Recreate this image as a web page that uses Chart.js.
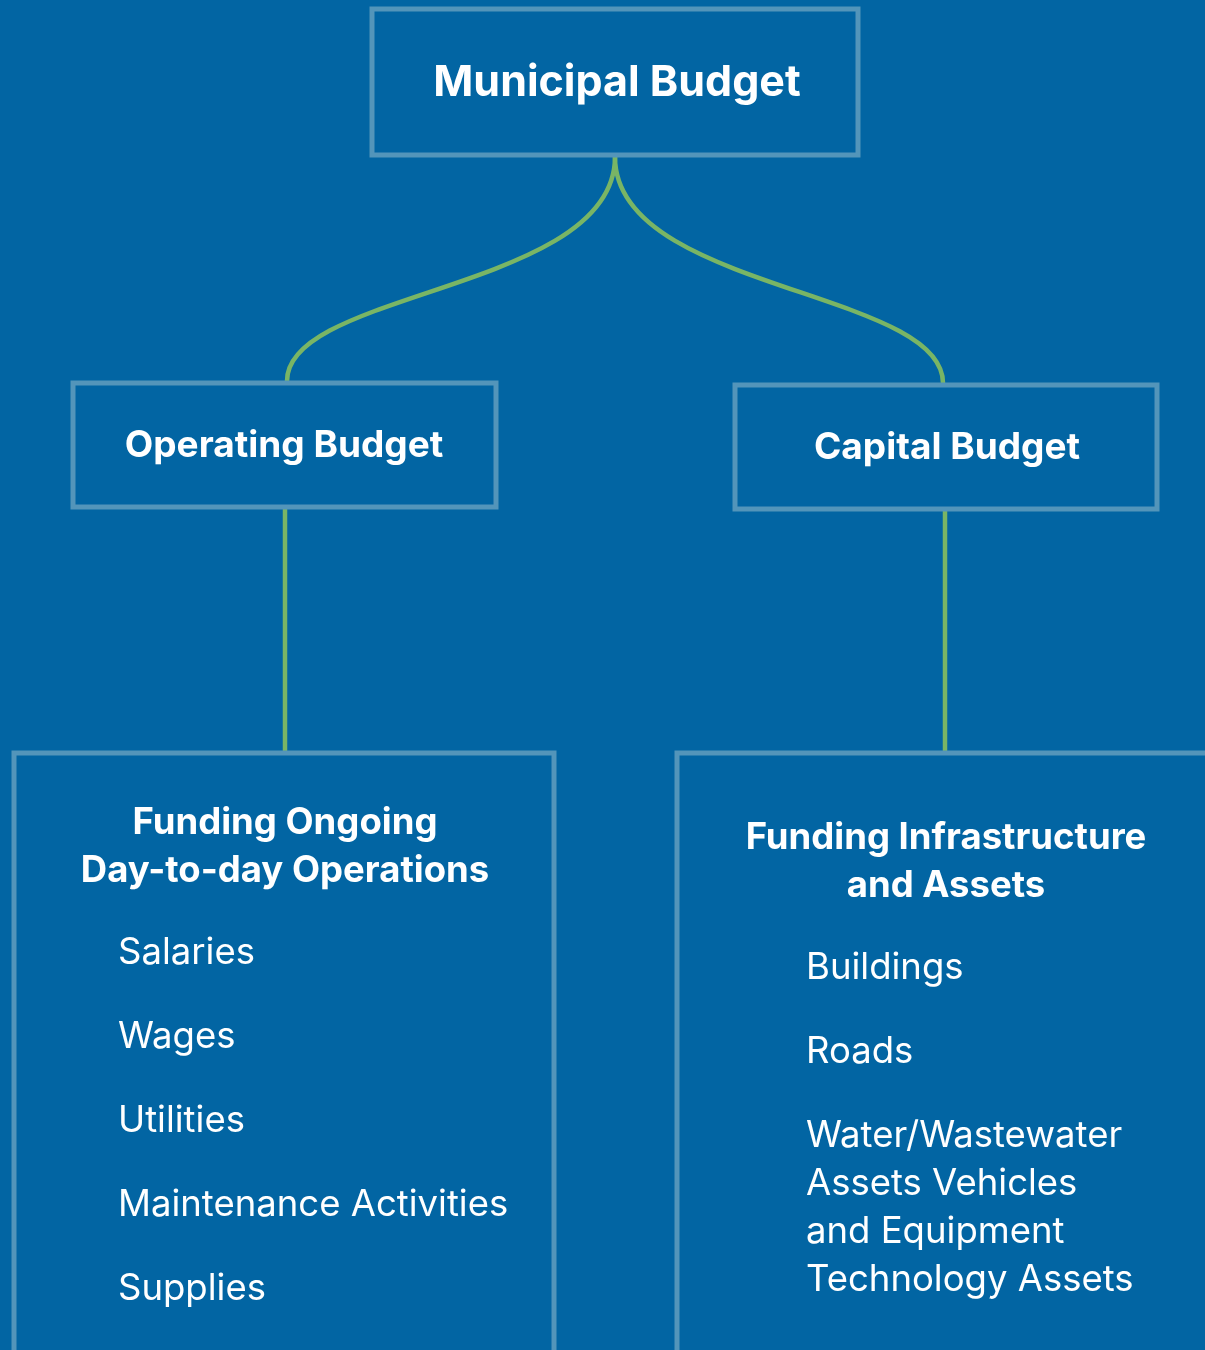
<!DOCTYPE html>
<html>
<head>
<meta charset="utf-8">
<script src="https://cdn.jsdelivr.net/npm/chart.js@4.4.1/dist/chart.umd.min.js"></script>
<style>
  html, body { margin: 0; padding: 0; background: #0265a3; }
  #wrap { width: 1205px; height: 1350px; }
</style>
</head>
<body>
<div id="wrap"><canvas id="chart" width="1205" height="1350"></canvas></div>
<script>
// diagram content
const rootLabel = ['Municipal Budget'];
const branchLabels = ['Operating Budget', 'Capital Budget'];
const detailTitles = [
    ['Funding Ongoing', 'Day-to-day Operations'],
    ['Funding Infrastructure', 'and Assets']
];
const operatingItems = [['Salaries'], ['Wages'], ['Utilities'], ['Maintenance Activities'], ['Supplies']];
const capitalItems = [['Buildings'], ['Roads'], ['Water/Wastewater', 'Assets Vehicles', 'and Equipment', 'Technology Assets']];

// layout (in scale units, 1 unit = 1 px)
const layout = {
    root: { x0: 372, y0: 9, x1: 858, y1: 155, cx: 617, cy: 83 },
    branches: [
        { x0: 73, y0: 383, x1: 496, y1: 507, cx: 284, cy: 446, anchor: 287 },
        { x0: 735, y0: 385, x1: 1157, y1: 509, cx: 947, cy: 448, anchor: 943 }
    ],
    details: [
        { x0: 14, y0: 753, x1: 554, y1: 1400, cx: 285, cy: 823, itemX: 118, itemY: 953, step: 84, lead: 48, stem: 285 },
        { x0: 677, y0: 753, x1: 1260, y1: 1400, cx: 946, cy: 838, itemX: 806, itemY: 968, step: 84, lead: 48, stem: 945 }
    ]
};

const colors = {
    border: '#5395ba',
    link: '#79b565',
    text: '#ffffff'
};

const diagramPlugin = {
    id: 'diagram',
    afterDatasetsDraw(chart) {
        const ctx = chart.ctx;
        const sx = v => chart.scales.x.getPixelForValue(v);
        const sy = v => chart.scales.y.getPixelForValue(v);

        // connectors
        ctx.save();
        ctx.strokeStyle = colors.link;
        ctx.lineWidth = 4.5;
        ctx.lineCap = 'butt';
        const r = layout.root;
        const midY = 290;
        layout.branches.forEach(b => {
            ctx.beginPath();
            ctx.moveTo(sx(r.cx - 2), sy(r.y1 + 2));
            ctx.bezierCurveTo(sx(r.cx - 2), sy(midY), sx(b.anchor), sy(midY), sx(b.anchor), sy(b.y0 - 2));
            ctx.stroke();
        });
        layout.branches.forEach((b, i) => {
            const d = layout.details[i];
            ctx.beginPath();
            ctx.moveTo(sx(d.stem), sy(b.y1 + 2));
            ctx.lineTo(sx(d.stem), sy(d.y0 - 2));
            ctx.stroke();
        });

        // boxes
        ctx.strokeStyle = colors.border;
        ctx.lineWidth = 5;
        const boxes = [r, ...layout.branches, ...layout.details];
        boxes.forEach(b => {
            ctx.strokeRect(sx(b.x0), sy(b.y0), sx(b.x1) - sx(b.x0), sy(b.y1) - sy(b.y0));
        });

        // text
        ctx.fillStyle = colors.text;
        ctx.textAlign = 'center';
        ctx.textBaseline = 'middle';
        ctx.font = 'bold 43px Inter';
        ctx.fillText(rootLabel[0], sx(r.cx), sy(r.cy));

        ctx.font = 'bold 37px Inter';
        branchLabels.forEach((t, i) => {
            ctx.fillText(t, sx(layout.branches[i].cx), sy(layout.branches[i].cy));
        });

        ctx.font = 'bold 36.5px Inter';
        detailTitles.forEach((lines, i) => {
            const d = layout.details[i];
            lines.forEach((t, j) => ctx.fillText(t, sx(d.cx), sy(d.cy + j * d.lead)));
        });

        ctx.textAlign = 'left';
        ctx.font = '36.5px Inter';
        [operatingItems, capitalItems].forEach((items, i) => {
            const d = layout.details[i];
            items.forEach((lines, j) => {
                lines.forEach((t, k) => {
                    ctx.fillText(t, sx(d.itemX), sy(d.itemY + j * d.step + k * d.lead));
                });
            });
        });
        ctx.restore();
    }
};

new Chart(document.getElementById('chart'), {
    type: 'scatter',
    data: { datasets: [{ data: [], pointRadius: 0 }] },
    options: {
        responsive: false,
        animation: false,
        layout: { padding: 0 },
        plugins: { legend: { display: false }, tooltip: { enabled: false } },
        scales: {
            x: { type: 'linear', min: 0, max: 1205, display: false },
            y: { type: 'linear', min: 0, max: 1350, reverse: true, display: false }
        }
    },
    plugins: [diagramPlugin]
});
</script>
</body>
</html>
